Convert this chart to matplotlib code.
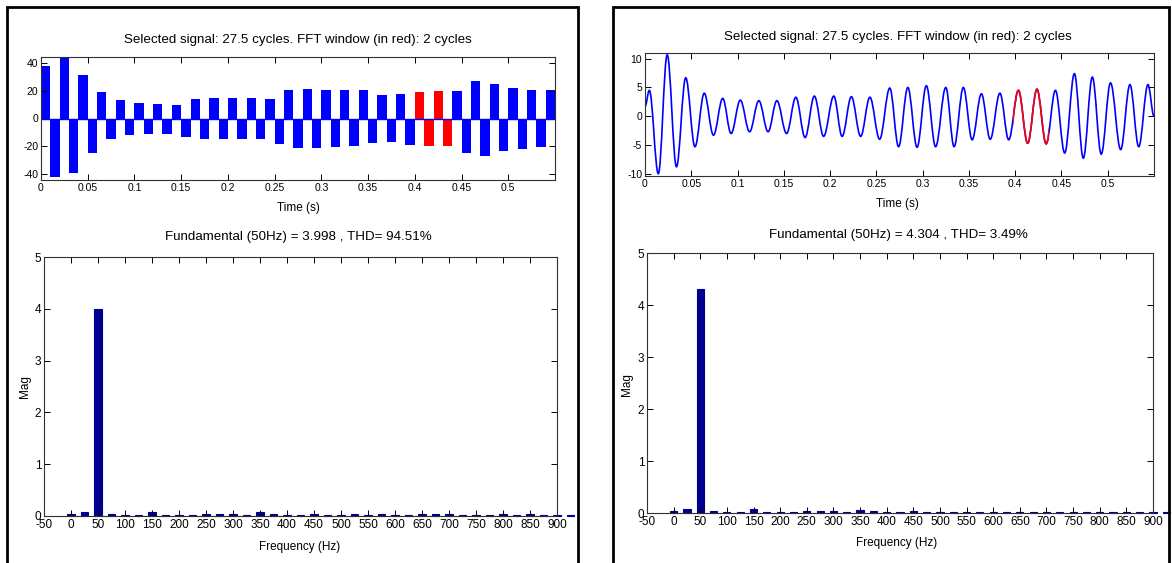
import matplotlib
matplotlib.use("Agg")
import matplotlib.pyplot as plt
from matplotlib.patches import Rectangle, PathPatch
from matplotlib.path import Path
import numpy as np

W, H = 1172, 563
plt.rcParams['font.family'] = ['Liberation Sans Narrow', 'Liberation Sans', 'DejaVu Sans']
plt.rcParams['axes.unicode_minus'] = False

# left case: peak of every half cycle (0.01 s each) of the switched signal
left_peaks = [37.6, -42, 43.5, -39, 31, -25, 19, -15, 13, -12,
              11, -11.3, 10.6, -11, 10, -13, 14, -15, 14.6, -15,
              14.6, -15, 14.6, -15, 14, -18, 20.5, -21, 21, -21,
              20.5, -20.5, 20.5, -20, 20.5, -17.6, 16.5, -16.5, 17.6, -18.8,
              18.8, -19.5, 20, -20, 20, -25, 27, -26.6, 24.7, -23.5,
              22, -22, 20.5, -20.5, 20.5]
half_cycle = 0.01
left_window = (0.40, 0.44)

# right case: extrema of the smooth signal (time s, value)
right_t = [0, 0.0047, 0.0144, 0.024, 0.034, 0.044, 0.054, 0.064, 0.074, 0.084,
           0.093, 0.103, 0.113, 0.123, 0.133, 0.1425, 0.153, 0.163, 0.173, 0.183,
           0.193, 0.204, 0.213, 0.223, 0.233, 0.243, 0.2535, 0.2645, 0.274, 0.284,
           0.294, 0.304, 0.314, 0.325, 0.334, 0.344, 0.3535, 0.3635, 0.373, 0.3835,
           0.393, 0.4035, 0.4135, 0.4235, 0.4335, 0.4435, 0.4535, 0.464,
           0.4736, 0.4834, 0.493, 0.503, 0.514, 0.524, 0.5335, 0.5435, 0.55]
right_v = [1.7, 4.5, -10.0, 10.7, -8.8, 6.7, -5.3, 4.0, -3.3, 3.1,
           -3.0, 2.8, -2.7, 2.7, -2.7, 2.7, -3.0, 3.3, -3.7, 3.5,
           -3.5, 3.5, -3.5, 3.4, -3.5, 3.3, -4.0, 4.9, -5.3, 5.0,
           -5.4, 5.3, -5.3, 5.0, -5.3, 5.0, -4.1, 3.9, -4.0, 4.0,
           -4.1, 4.5, -4.7, 4.7, -4.8, 4.5, -6.4, 7.4,
           -7.3, 6.8, -6.6, 5.8, -5.8, 5.5, -5.3, 5.5, 0.0]
right_window = (0.398, 0.437)

freqs = list(range(0, 950, 25))
left_mag = [0.045, 0.076, 3.998, 0.04, 0.025, 0.02, 0.076, 0.02, 0.025, 0.02,
            0.04, 0.04, 0.04, 0.02, 0.076, 0.04, 0.025, 0.02, 0.04, 0.02,
            0.02, 0.03, 0.02, 0.03, 0.02, 0.015, 0.035, 0.03, 0.035, 0.025,
            0.015, 0.015, 0.03, 0.02, 0.035, 0.015, 0.015, 0.015]
right_mag = [0.03, 0.07, 4.304, 0.03, 0.015, 0.015, 0.07, 0.015, 0.015, 0.01,
             0.03, 0.03, 0.03, 0.015, 0.065, 0.03, 0.015, 0.01, 0.045, 0.015,
             0.01, 0.02, 0.015, 0.02, 0.01, 0.01, 0.02, 0.02, 0.02, 0.015,
             0.01, 0.01, 0.02, 0.02, 0.02, 0.01, 0.02, 0.015]

sig_title = "Selected signal: 27.5 cycles. FFT window (in red): 2 cycles"
left_fft_title = "Fundamental (50Hz) = 3.998 , THD= 94.51%"
right_fft_title = "Fundamental (50Hz) = 4.304 , THD= 3.49%"
time_ticks = [0, 0.05, 0.1, 0.15, 0.2, 0.25, 0.3, 0.35, 0.4, 0.45, 0.5]
time_labels = ['0', '0.05', '0.1', '0.15', '0.2', '0.25', '0.3', '0.35', '0.4', '0.45', '0.5']
freq_ticks = list(range(-50, 901, 50))

BLUE = '#0000FF'
RED = '#FF0000'
NAVY = '#00008F'


def box(x0, y0, x1, y1):
    return [x0 / W, 1 - y1 / H, (x1 - x0) / W, (y1 - y0) / H]


def txt(x, y, s, **kw):
    fig.text(x / W, 1 - y / H, s, ha='center', va='center', **kw)


def style(ax, size):
    ax.tick_params(direction='in', top=True, right=True, length=4, width=0.7,
                   labelsize=size, pad=2)
    for side in ax.spines.values():
        side.set_linewidth(0.8)
        side.set_color('#303030')


def smooth_path(t, v):
    # cubic segments with flat tangents at each extremum
    verts = [(t[0], v[0])]
    codes = [Path.MOVETO]
    for i in range(1, len(t)):
        dt = t[i] - t[i - 1]
        verts += [(t[i - 1] + 0.364 * dt, v[i - 1]), (t[i] - 0.364 * dt, v[i]), (t[i], v[i])]
        codes += [Path.CURVE4] * 3
    return Path(verts, codes)


fig = plt.figure(figsize=(W / 100, H / 100), dpi=100)

# panel frames
for x0, x1 in [(7, 578), (613, 1169)]:
    fig.add_artist(Rectangle((x0 / W, -0.05), (x1 - x0) / W, 1.05 - 7 / H,
                             transform=fig.transFigure, fill=False,
                             edgecolor='black', linewidth=2))

# ---- left signal
ax = fig.add_axes(box(41, 57, 555, 180))
starts = np.arange(len(left_peaks)) * half_cycle
cols = [RED if left_window[0] - 1e-9 <= s < left_window[1] - 1e-9 else BLUE for s in starts]
ax.bar(starts, left_peaks, width=half_cycle, align='edge', color=cols, linewidth=0)
ax.axhline(0, color=BLUE, linewidth=1)
ax.set_xlim(0, 0.55)
ax.set_ylim(-44, 44)
ax.set_yticks([-40, -20, 0, 20, 40])
ax.set_xticks(time_ticks)
ax.set_xticklabels(time_labels)
style(ax, 7.5)

# ---- right signal
ax = fig.add_axes(box(645, 53, 1154, 176))
path = smooth_path(right_t, right_v)
ax.add_patch(PathPatch(path, fill=False, edgecolor=BLUE, linewidth=1.2))
red = PathPatch(path, fill=False, edgecolor=RED, linewidth=1.2)
ax.add_patch(red)
win = Rectangle((right_window[0], -20), right_window[1] - right_window[0], 40,
                transform=ax.transData, visible=False)
ax.add_patch(win)
red.set_clip_path(win)
ax.set_xlim(0, 0.55)
ax.set_ylim(-10.4, 11)
ax.set_yticks([-10, -5, 0, 5, 10])
ax.set_xticks(time_ticks)
ax.set_xticklabels(time_labels)
style(ax, 7.5)

# ---- FFT bars
for pos, mags in [((44, 257, 557, 516), left_mag), ((647, 253, 1153, 513), right_mag)]:
    ax = fig.add_axes(box(*pos))
    ax.bar(freqs, mags, width=13.5, color=NAVY, edgecolor=NAVY, linewidth=0.8,
           clip_on=False)
    ax.set_xlim(-50, 900)
    ax.set_ylim(0, 5)
    ax.set_xticks(freq_ticks)
    ax.set_xticklabels([str(f) for f in freq_ticks])
    ax.set_yticks([0, 1, 2, 3, 4, 5])
    style(ax, 8.5)

# texts
txt(298, 40, sig_title, fontsize=9.6)
txt(898, 37, sig_title, fontsize=9.6)
txt(298, 208, "Time (s)", fontsize=8.5)
txt(897, 204, "Time (s)", fontsize=8.5)
txt(298, 237, left_fft_title, fontsize=9.6)
txt(898, 235, right_fft_title, fontsize=9.6)
txt(300, 547, "Frequency (Hz)", fontsize=8.5)
txt(897, 543, "Frequency (Hz)", fontsize=8.5)
txt(25, 387, "Mag", fontsize=8.5, rotation=90)
txt(627, 385, "Mag", fontsize=8.5, rotation=90)

fig.savefig("out.png", dpi=100, facecolor='white')
